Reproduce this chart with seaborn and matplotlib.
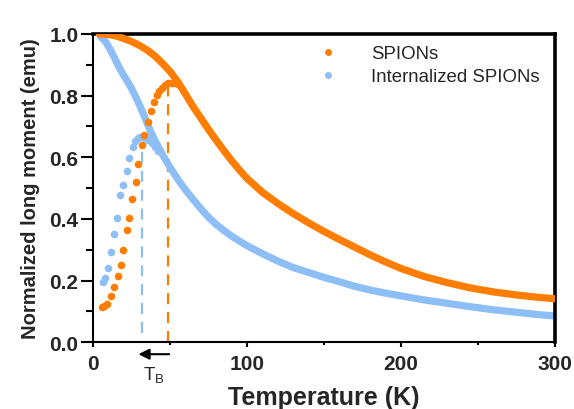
import matplotlib
matplotlib.use("Agg")
import matplotlib.pyplot as plt
import seaborn as sns
import pandas as pd
from matplotlib.lines import Line2D
from matplotlib.ticker import MultipleLocator

# ---------------- data ----------------
# SPIONs, field cooled (dense curve)
fc_spion_T = [4, 10, 15, 20, 25, 30, 35, 40, 45, 50, 55, 60, 65, 70, 75, 80, 85, 90, 95, 100,
              110, 120, 130, 140, 150, 160, 170, 180, 190, 200, 215, 230, 245, 260, 275, 290, 300]
fc_spion_M = [1.0, 0.998, 0.993, 0.985, 0.975, 0.963, 0.948, 0.929, 0.905, 0.878, 0.845, 0.805,
              0.764, 0.727, 0.690, 0.655, 0.621, 0.589, 0.559, 0.531, 0.486, 0.450, 0.417, 0.387,
              0.359, 0.333, 0.308, 0.283, 0.260, 0.239, 0.213, 0.193, 0.176, 0.163, 0.153, 0.145,
              0.141]
# SPIONs, zero field cooled
zfc_spion_T = [5.6, 7.3, 8.9, 11.7, 13.9, 16.0, 18.0, 19.7, 22.3, 23.6, 25.5, 27.7, 29.4, 31.8,
               33.3, 35.5, 37.5, 39.5, 41.4, 43.0, 44.6, 46.5, 48.9, 51, 53, 55]
zfc_spion_M = [0.113, 0.118, 0.123, 0.150, 0.180, 0.213, 0.251, 0.300, 0.365, 0.404, 0.464, 0.518,
               0.578, 0.640, 0.672, 0.713, 0.751, 0.778, 0.802, 0.815, 0.824, 0.834, 0.840, 0.842,
               0.840, 0.838]
# Internalized SPIONs, field cooled
fc_int_T = [5, 8, 11, 14, 17, 20, 24, 27, 30, 33, 36, 40, 45, 50, 55, 60, 65, 70, 75, 80, 85,
            90, 95, 100, 110, 120, 130, 140, 150, 160, 170, 180, 190, 200, 215, 230, 245, 260,
            275, 290, 300]
fc_int_M = [0.990, 0.976, 0.951, 0.922, 0.891, 0.865, 0.832, 0.803, 0.771, 0.737, 0.700, 0.656,
            0.610, 0.567, 0.529, 0.494, 0.463, 0.433, 0.405, 0.382, 0.362, 0.344, 0.328, 0.313,
            0.287, 0.263, 0.242, 0.226, 0.210, 0.196, 0.181, 0.169, 0.159, 0.150, 0.137, 0.126,
            0.115, 0.105, 0.097, 0.089, 0.085]
# Internalized SPIONs, zero field cooled
zfc_int_T = [6.3, 7.8, 9.9, 11.7, 13.9, 15.8, 17.8, 19.7, 21.9, 23.6, 25.8, 27.3, 29.0, 30.5,
             32.0, 34.0, 36.0, 38.0, 40.0, 42.0]
zfc_int_M = [0.194, 0.207, 0.242, 0.293, 0.351, 0.403, 0.477, 0.511, 0.554, 0.596, 0.632, 0.654,
             0.662, 0.666, 0.665, 0.662, 0.655, 0.645, 0.633, 0.620]

blocking_T = [49, 32]          # SPIONs, Internalized SPIONs
blocking_M = [0.838, 0.645]
series_names = ["SPIONs", "Internalized SPIONs"]
x_ticks = [0, 100, 200, 300]
y_ticks = [0.0, 0.2, 0.4, 0.6, 0.8, 1.0]

orange = "#FF7D00"
blue = "#8DBFF6"

# ---------------- plot ----------------
sns.set_theme(style="ticks")
plt.rcParams["font.family"] = ["Liberation Sans", "DejaVu Sans"]

fig = plt.figure(figsize=(5.74, 4.10), dpi=100)
ax = fig.add_axes([0.162, 0.163, 0.805, 0.752])

fc_s = pd.DataFrame({"T": fc_spion_T, "M": fc_spion_M})
zfc_s = pd.DataFrame({"T": zfc_spion_T, "M": zfc_spion_M})
fc_i = pd.DataFrame({"T": fc_int_T, "M": fc_int_M})
zfc_i = pd.DataFrame({"T": zfc_int_T, "M": zfc_int_M})

# dashed blocking temperature lines
ax.plot([blocking_T[1], blocking_T[1]], [0.03, blocking_M[1]], color=blue, lw=1.6,
        dashes=(5, 3.5), zorder=1)
ax.plot([blocking_T[0], blocking_T[0]], [0.0, blocking_M[0]], color=orange, lw=1.6,
        dashes=(5, 3.5), zorder=1)

# internalized (blue)
sns.lineplot(data=fc_i, x="T", y="M", sort=False, color=blue, lw=5.2,
             solid_capstyle="round", solid_joinstyle="round", ax=ax, zorder=2)
sns.scatterplot(data=zfc_i, x="T", y="M", color=blue, s=30, linewidth=0, ax=ax, zorder=2)
# SPIONs (orange)
sns.lineplot(data=fc_s, x="T", y="M", sort=False, color=orange, lw=5.2,
             solid_capstyle="round", solid_joinstyle="round", ax=ax, zorder=3)
sns.scatterplot(data=zfc_s, x="T", y="M", color=orange, s=30, linewidth=0, ax=ax, zorder=3)

ax.set_xlim(0, 300)
ax.set_ylim(0, 1.0)
ax.set_xticks(x_ticks)
ax.set_yticks(y_ticks)
ax.set_yticklabels([f"{v:.1f}" for v in y_ticks])
ax.xaxis.set_minor_locator(MultipleLocator(50))
ax.yaxis.set_minor_locator(MultipleLocator(0.1))

for side in ["left", "bottom"]:
    ax.spines[side].set_linewidth(1.5)
for side in ["top", "right"]:
    ax.spines[side].set_linewidth(2.6)
for s in ax.spines.values():
    s.set_color("black")
    s.set_visible(True)

ax.tick_params(axis="y", which="major", length=8.5, width=1.5, color="black",
               labelsize=15, pad=2)
ax.tick_params(axis="y", which="minor", length=5, width=1.5, color="black")
ax.tick_params(axis="x", which="major", length=3.5, width=1.5, color="black",
               labelsize=15, pad=5)
ax.tick_params(axis="x", which="minor", length=2.5, width=1.5, color="black")
for lab in ax.get_xticklabels() + ax.get_yticklabels():
    lab.set_fontweight("bold")

ax.set_xlabel("Temperature (K)", fontsize=18, fontweight="bold", labelpad=9)
ax.set_ylabel("Normalized long moment (emu)", fontsize=14.5, fontweight="bold", labelpad=7)

# T_B arrow and label
ax.annotate("", xy=(29.5, -0.039), xytext=(49.5, -0.039),
            xycoords=("data", "axes fraction"), textcoords=("data", "axes fraction"),
            arrowprops=dict(arrowstyle="-|>", color="black", lw=1.5, mutation_scale=16,
                            shrinkA=0, shrinkB=0),
            annotation_clip=False)
ax.text(39.5, -0.104, r"$\mathregular{T_B}$", transform=ax.get_xaxis_transform(),
        ha="center", va="center", fontsize=13.5)

handles = [Line2D([], [], ls="none", marker="o", markersize=5, color=orange, markeredgewidth=0),
           Line2D([], [], ls="none", marker="o", markersize=5, color=blue, markeredgewidth=0)]
ax.legend(handles, series_names, loc="upper right", frameon=False, fontsize=13.4,
          handlelength=1.0, handletextpad=1.8, labelspacing=0.32,
          bbox_to_anchor=(0.99, 1.0), borderaxespad=0.2)

fig.savefig("out.png", dpi=100)
